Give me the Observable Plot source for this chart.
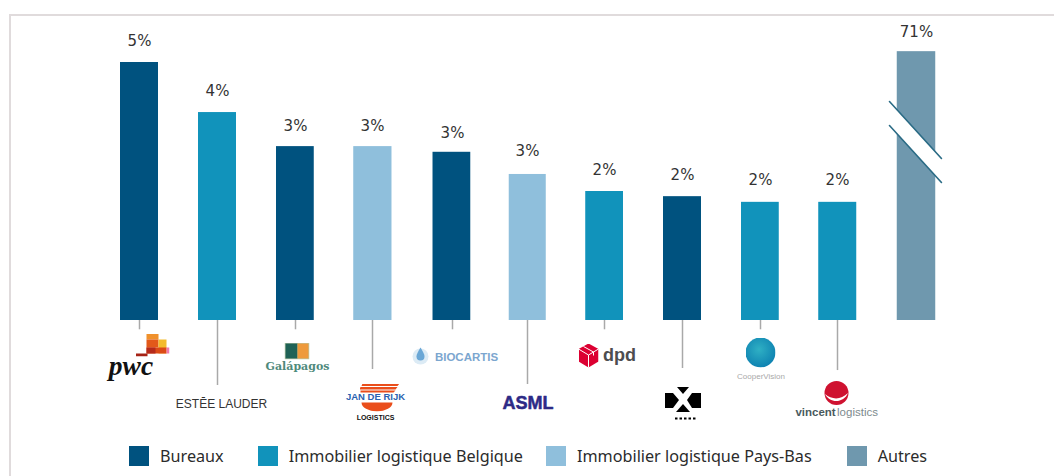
<!DOCTYPE html>
<html><head><meta charset="utf-8">
<script src="https://cdn.jsdelivr.net/npm/d3@7"></script>
<script src="https://cdn.jsdelivr.net/npm/@observablehq/plot@0.6"></script>
<style>
html,body{margin:0;padding:0;background:#fff;width:1054px;height:476px;overflow:hidden}
#frame{position:absolute;left:9px;top:14px;right:0;bottom:0;border-top:2px solid #e0dbdc;border-left:2px solid #e0dbdc;pointer-events:none}
#chart{position:absolute;left:0;top:0}
#chart svg{display:block;background:transparent}
#legend{position:absolute;left:129px;top:446px;display:flex;font:16.2px "Noto Sans",sans-serif;color:#2b2b2b;line-height:20px;white-space:nowrap}
#legend .sw{display:inline-block;width:20px;height:20px;margin-right:11px}
#legend .it{display:flex;align-items:center}
</style></head><body>
<div id="frame"></div><div id="chart"></div><div id="legend"></div>
<script>
// --- data ---
const tenants = ["PwC","Estée Lauder","Galapagos","Jan de Rijk","Biocartis","ASML","DPD","Tile","CooperVision","Vincent Logistics","Autres"];
const barHeights = [5.0,4.03,3.37,3.37,3.26,2.83,2.5,2.4,2.29,2.29,5.21]; // last one is drawn truncated (axis break)
const shareLabels = ["5%","4%","3%","3%","3%","3%","2%","2%","2%","2%","71%"];
const segments = ["Bureaux","Immobilier logistique Belgique","Immobilier logistique Pays-Bas","Autres"];
const segmentOfTenant = [0,1,0,2,0,2,1,0,1,1,3];
const segmentColors = ["#00527f","#1193bb","#8fbfdc","#6f98ae"];
const leaderDepths = [0.18,1.26,0.18,0.95,0.18,1.24,0.18,0.93,0.18,0.97];
const labelGaps = [0.42,0.42,0.39,0.39,0.37,0.46,0.41,0.42,0.43,0.43,0.37];

// --- layout ---
const W = 1054, H = 440, U = 51.6, base = 320;
const slots = tenants.map((_, i) => i);
const xRange = [139,217,295,372,452,527,604,682,760,837,916];
const half = 0.2436;
const bars = tenants.map((t, i) => ({t, i, h: barHeights[i], c: segmentColors[segmentOfTenant[i]], l: shareLabels[i], g: labelGaps[i], d: leaderDepths[i]}));
const yAt = row => (base - row) / U;

const uri = s => "data:image/svg+xml," + encodeURIComponent(`<svg xmlns="http://www.w3.org/2000/svg" ${s}</svg>`);
const emblem = (i, cx, cy, w, h, body) => Plot.image([{i}], {
  x: "i", y: () => yAt(cy), dx: cx - xRange[i], width: w, height: h, preserveAspectRatio: "none",
  src: () => uri(`viewBox="0 0 ${w} ${h}" width="${w}" height="${h}">${body}`)
});
const word = (text, i, cx, cy, o) => Plot.text([{i}], {
  x: "i", y: () => yAt(cy), dx: cx - xRange[i], text: () => text, textAnchor: "middle", ...o
});

const marks = [
  Plot.ruleX(bars.filter(d => d.i < 10), {x: "i", y1: 0, y2: d => -d.d, stroke: "#a9a9a9", strokeWidth: 1.5}),
  Plot.rectY(bars, {x1: d => d.i - half, x2: d => d.i + half, y1: 0, y2: "h", fill: "c"}),
  Plot.text(bars, {x: "i", y: d => d.h + d.g, text: "l", fontSize: 15, fill: "#333", fontFamily: "DejaVu Sans"}),
  Plot.areaY([{x:9.658,a:4.244,b:3.779},{x:10.316,a:3.14,b:2.674}], {x:"x", y1:"a", y2:"b", fill:"#fff"}),
  Plot.line([{x:9.658,y:4.244},{x:10.316,y:3.14}], {x:"x", y:"y", stroke:"#2a6b85", strokeWidth:1.6}),
  Plot.line([{x:9.658,y:3.779},{x:10.316,y:2.674}], {x:"x", y:"y", stroke:"#2a6b85", strokeWidth:1.6}),

  // PwC
  emblem(0,152,344.5,34,23,`<rect x="11" width="12" height="6" fill="#f0912c"/><rect x="11" y="6" width="12" height="8" fill="#e2591a"/><rect x="23" y="6" width="8" height="14" fill="#f3bb2d"/><rect x="11" y="14" width="20" height="6" fill="#dc4a17"/><rect x="11" y="14" width="9" height="6" fill="#b52a1b"/><rect x="31" y="14" width="3" height="6" fill="#f07ab0"/><rect y="20" width="12" height="3" fill="#a62316"/>`),
  word("pwc",0,130.5,366,{fontFamily:"Liberation Serif",fontWeight:"bold",fontStyle:"italic",fontSize:27.5,fill:"#111"}),
  // Estée Lauder
  word("ESTĒE LAUDER",1,221,404,{fontFamily:"Liberation Sans",fontSize:12,fill:"#333"}),
  // Galapagos
  emblem(2,296.5,350.5,25,17,`<rect width="25" height="17" fill="#b9c9a8"/><rect x="1" y="1" width="12" height="15" fill="#1f6256"/><rect x="13" y="1" width="11" height="15" fill="#ee9a3c"/>`),
  word("Galápagos",2,297,366,{fontFamily:"DejaVu Serif",fontWeight:"bold",fontSize:11,fill:"#4f8a7c"}),
  // Jan de Rijk
  emblem(3,379,397,40,28,`<path d="M3 0H40L38 2.5H2Z M1 3.5H38L36 6H0Z M1 7H36L34 9H1Z M2 19H33A15.5 9 0 0 1 2 19Z" fill="#ea4e1b"/>`),
  word("JAN DE RIJK",3,375,396.5,{fontFamily:"Liberation Sans",fontWeight:"bold",fontSize:9.5,fill:"#2a62b0"}),
  word("LOGISTICS",3,375,417.5,{fontFamily:"Liberation Sans",fontWeight:"bold",fontSize:7,fill:"#111"}),
  // Biocartis
  emblem(4,420,355,20,22,`<circle cx="10" cy="12" r="8" fill="#dcebf5"/><path d="M10 3C13 8 14 10 14 12A4 4 0 0 1 6 12C6 10 7 8 10 3Z" fill="#6aa7d6"/>`),
  word("BIOCARTIS",4,466,356.5,{fontFamily:"Liberation Sans",fontWeight:"bold",fontSize:11.5,fill:"#7ba6cf"}),
  // ASML
  word("ASML",5,527.5,403,{fontFamily:"Liberation Sans",fontWeight:"bold",fontSize:18,fill:"#2d2a86",stroke:"#2d2a86",strokeWidth:0.5}),
  // dpd
  emblem(6,588,355,20,24,`<path d="M10 0L20 5.5V18L10 24L0 18V5.5Z" fill="#dc0032"/><path d="M10 11.5V24M0 5.5L10 11.5L20 5.5M5 3L15 8.5V12" fill="none" stroke="#fff" stroke-width="1"/>`),
  word("dpd",6,619,355,{fontFamily:"Liberation Sans",fontWeight:"bold",fontSize:18,fill:"#4d4d4f"}),
  // Tile
  emblem(7,682.5,403.5,36,34,`<path d="M0 6H8L14 13L8 21H0Z M36 6H27L22 13L27 21H36Z M12 0H24L18 7Z M11 25L18 17L25 25Z" fill="#000"/><path d="M10 31.5H31" stroke="#000" stroke-width="2" stroke-dasharray="2.5 2"/>`),
  // CooperVision
  emblem(8,760,352,30,30,`<defs><radialGradient id="g" cx=".45" cy=".4" r=".65"><stop offset="0" stop-color="#2fb0c4"/><stop offset="1" stop-color="#0c7fb0"/></radialGradient></defs><circle cx="15" cy="15" r="15" fill="url(#g)"/>`),
  word("CooperVision",8,760.5,376,{fontFamily:"Liberation Sans",fontSize:8,fill:"#a9a9a9"}),
  // Vincent
  emblem(9,836,392.5,25,24,`<circle cx="12.5" cy="12" r="12" fill="#cf1230"/><path d="M1 13C8 19 17 19 24 12C20 22 6 23 1 13Z" fill="#fff"/>`),
  word("vincent",9,815,412,{fontFamily:"Liberation Sans",fontWeight:"bold",fontSize:11.5,fill:"#4a5a5e"}),
  word("logistics",9,857,412,{fontFamily:"Liberation Sans",fontSize:11.5,fill:"#7d8a8d"})
];

const svg = Plot.plot({
  width: W, height: H, marginTop: 0, marginBottom: 0, marginLeft: 0, marginRight: 0,
  x: {type: "linear", domain: slots, range: xRange, axis: null},
  y: {type: "linear", domain: [(base - H) / U, base / U], range: [H, 0], axis: null},
  style: {background: "transparent"},
  marks
});
document.getElementById("chart").append(svg);

const gaps = [0, 34, 23, 35];
const legend = document.getElementById("legend");
segments.forEach((s, i) => {
  const it = document.createElement("div"); it.className = "it"; it.style.marginLeft = gaps[i] + "px";
  const sw = document.createElement("span"); sw.className = "sw"; sw.style.background = segmentColors[i];
  const tx = document.createElement("span"); tx.textContent = s;
  it.append(sw, tx); legend.append(it);
});
</script>
</body></html>
